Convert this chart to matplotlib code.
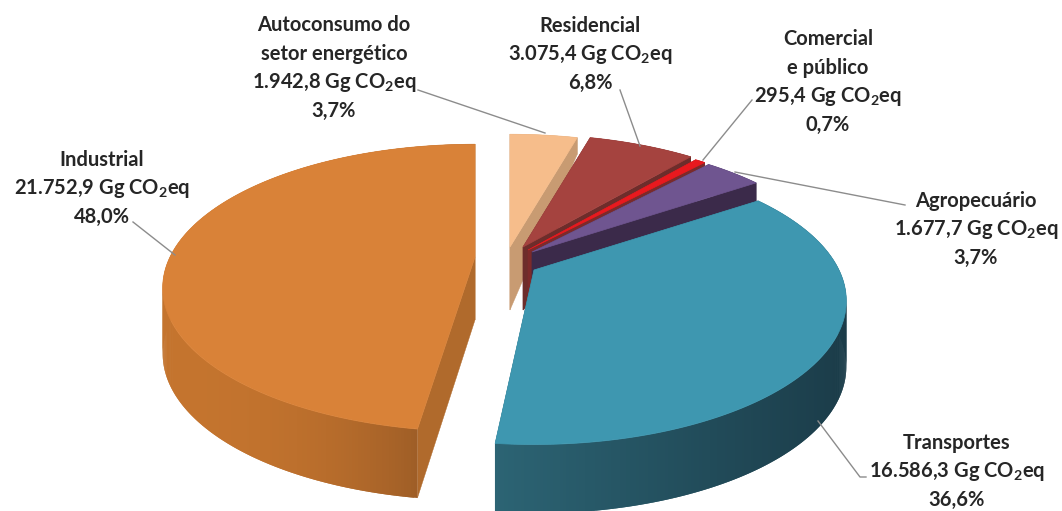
import numpy as np
import matplotlib
matplotlib.use("Agg")
import matplotlib.pyplot as plt
from matplotlib.patches import Polygon
from matplotlib.colors import to_rgb

# dados
setores = ["Autoconsumo do\nsetor energético", "Residencial", "Comercial\ne público",
           "Agropecuário", "Transportes", "Industrial"]
valores = [1942.8, 3075.4, 295.4, 1677.7, 16586.3, 21752.9]
rot_valores = ["1.942,8", "3.075,4", "295,4", "1.677,7", "16.586,3", "21.752,9"]
rot_pct = ["3,7%", "6,8%", "0,7%", "3,7%", "36,6%", "48,0%"]

# cores: topo, corte, parede (esq), parede (dir)
topo = ["#f6bd8b", "#a5433f", "#e8191e", "#6f5590", "#3e97b0", "#d98238"]
corte = ["#c89b72", "#6d2d2b", "#7c2a2a", "#3b2a4a", "#245a6a", "#b06a2c"]
par_esq = ["#c89b72", "#6d2d2b", "#7c2a2a", "#3b2a4a", "#2c6474", "#c4742e"]
par_dir = ["#c89b72", "#6d2d2b", "#7c2a2a", "#3b2a4a", "#1b3c49", "#875022"]

# vertice de cada fatia na imagem (pixels)
vert_x = [510, 523, 528, 532, 534, 475]
vert_y = [247, 247, 250, 252, 270, 257]
# folga nas pontas das fatias (graus)
folga_ini = [0, 0, 0, 0, 0, 1.3]
folga_fim = [0, 0, 0, 0, 1.5, 0]

# posicao dos rotulos (centro x, y da 1a linha) e linhas de chamada
rot_x = [334, 590, 828, 976, 957, 102]
rot_y = [25, 26, 39, 201, 443, 160]
chamada = [[(418, 90), (545, 133)], [(620, 90), (640, 146)], [(752, 100), (703, 160)],
           [(905, 205), (735, 172)], [(866, 477), (860, 477), (818, 421)], [(133, 222), (175, 255)]]

# perspectiva
A, B, K = 305.0, 137.0, 0.215
ALT = 65.0

def proj(theta, x0, y0):
    # theta medido a partir do topo, sentido horario
    x, y = np.sin(theta), np.cos(theta)
    w = 1 + K*y
    return x0 + A*x/w, y0 - B*y/w

def altura(theta):
    y = np.cos(theta)
    return np.where(y > 0, ALT - 50*y, ALT - 4*y)

plt.rcParams["font.family"] = ["Lato", "DejaVu Sans"]
plt.rcParams["mathtext.default"] = "regular"

fig = plt.figure(figsize=(10.62, 5.11), dpi=100)
ax = fig.add_axes([0, 0, 1, 1])
ax.set_xlim(0, 1062)
ax.set_ylim(511, 0)
ax.axis("off")

ang = np.cumsum([0] + valores)/sum(valores)*2*np.pi

# desenha de tras para frente
ordem = [5, 0, 1, 2, 3, 4]
z = 1
for i in ordem:
    t0 = ang[i] + np.radians(folga_ini[i])
    t1 = ang[i+1] - np.radians(folga_fim[i])
    x0, y0 = vert_x[i], vert_y[i]
    t = np.linspace(t0, t1, max(int((t1-t0)*120), 6))
    sx, sy = proj(t, x0, y0)
    h = altura(t)
    # faces de corte
    for tc in (t0, t1):
        cx, cy = proj(tc, x0, y0)
        ax.add_patch(Polygon([(x0, y0), (cx, cy), (cx, cy+altura(tc)), (x0, y0+ALT-2)],
                             fc=corte[i], ec=corte[i], lw=0.3, zorder=z))
    # parede externa com gradiente
    ce, cd = np.array(to_rgb(par_esq[i])), np.array(to_rgb(par_dir[i]))
    fx = (sx - sx.min())/max(sx.max() - sx.min(), 1)
    for j in range(len(t)-1):
        c = ce + (cd - ce)*fx[j]
        if i == 5:
            c = ce + (cd - ce)*fx[j]**2.5
        # cada quadrilatero invade o proximo para nao deixar listras
        j2 = min(j+2, len(t)-1)
        ax.add_patch(Polygon([(sx[j], sy[j]), (sx[j2], sy[j2]),
                              (sx[j2], sy[j2]+h[j2]), (sx[j], sy[j]+h[j])],
                             fc=c, ec="none", zorder=z+1))
    # topo
    ax.add_patch(Polygon(np.column_stack([np.r_[x0, sx], np.r_[y0, sy]]),
                         fc=topo[i], ec=topo[i], lw=0.5, zorder=z+2))
    z += 3

for p in chamada:
    ax.plot([q[0] for q in p], [q[1] for q in p], color="#8c8c8c", lw=1.0, zorder=z)

for i in range(len(setores)):
    linhas = setores[i].split("\n") + [rot_valores[i] + " Gg CO$_{2}$eq", rot_pct[i]]
    for n, s in enumerate(linhas):
        ax.text(rot_x[i], rot_y[i] + n*28.7, s, ha="center", va="center", fontsize=14.5,
                fontweight="bold", color="#262626", zorder=z+1)

fig.savefig("out.png", dpi=100)
